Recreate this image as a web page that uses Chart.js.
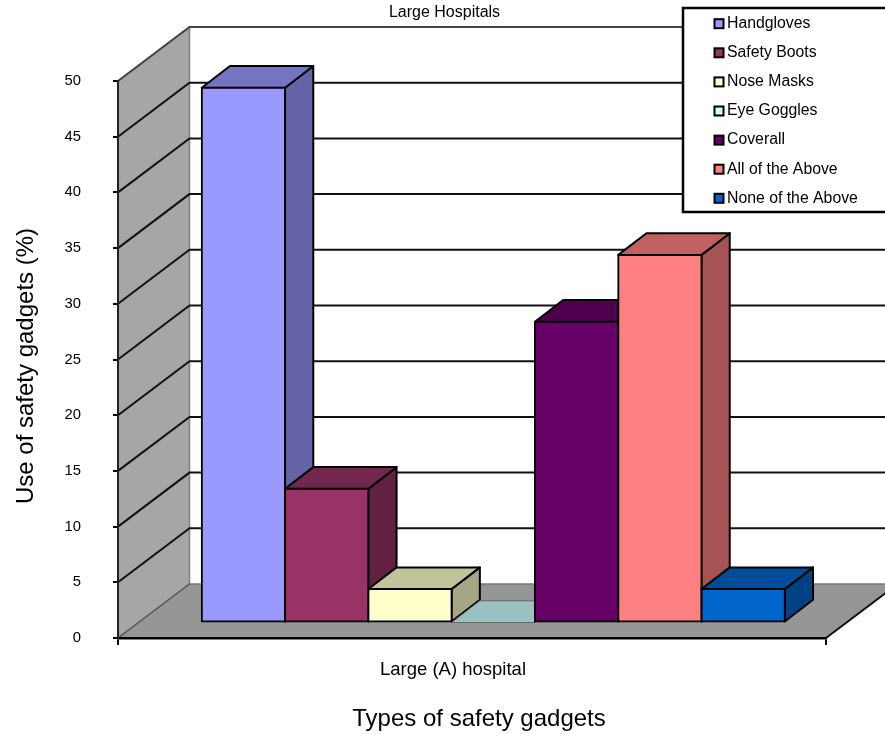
<!DOCTYPE html>
<html>
<head>
<meta charset="utf-8">
<title>Large Hospitals</title>
<script src="https://cdn.jsdelivr.net/npm/chart.js@4"></script>
<style>
  html, body { margin: 0; padding: 0; background: #fff; overflow: hidden; }
  canvas { display: block; }
</style>
</head>
<body>
<canvas id="grafica" width="885" height="734"></canvas>
<script>
// =======================
// DATOS
// =======================
const categorias = ['Large (A) hospital'];
const nombresSeries = ['Handgloves', 'Safety Boots', 'Nose Masks', 'Eye Goggles', 'Coverall', 'All of the Above', 'None of the Above'];
const valoresSeries = [48, 12, 3, 0, 27, 33, 3];
const coloresSeries = ['#9999FF', '#993366', '#FFFFCC', '#CCFFFF', '#660066', '#FF8080', '#0066CC'];
const valorMaximo = 50;
const pasoEje = 5;

const tituloGrafica = 'Large Hospitals';
const tituloEjeX = 'Types of safety gadgets';
const tituloEjeY = 'Use of safety gadgets (%)';

// =======================
// PERSPECTIVA
// =======================
const FONDO = { dx: 71.5, dy: -54 };    // del plano frontal a la pared del fondo
const PLANO_BARRAS = { dx: 21.3, dy: -15.5 };
const CAJA = { dx: 28.2, dy: -21.7 };   // profundidad de cada barra
const FUENTE = '"Liberation Sans", Arial, sans-serif';

function oscurecer(hex, f) {
  const n = parseInt(hex.slice(1), 16);
  const c = [n >> 16, (n >> 8) & 255, n & 255].map(v => Math.round(v * f));
  return `rgb(${c[0]}, ${c[1]}, ${c[2]})`;
}

function poligono(ctx, puntos, relleno, linea, grosor) {
  ctx.beginPath();
  puntos.forEach(([x, y], i) => (i ? ctx.lineTo(x, y) : ctx.moveTo(x, y)));
  ctx.closePath();
  if (relleno) { ctx.fillStyle = relleno; ctx.fill(); }
  if (linea) { ctx.strokeStyle = linea; ctx.lineWidth = grosor; ctx.stroke(); }
}

function linea(ctx, puntos, color, grosor) {
  ctx.beginPath();
  puntos.forEach(([x, y], i) => (i ? ctx.lineTo(x, y) : ctx.moveTo(x, y)));
  ctx.strokeStyle = color;
  ctx.lineWidth = grosor;
  ctx.stroke();
}

// Paredes, suelo y rejilla de fondo
const paredes = {
  id: 'paredes',
  beforeDraw(chart) {
    const { ctx, scales: { x, y }, width, height } = chart;
    const izq = x.left, der = x.right;
    const base = y.getPixelForValue(0), tope = y.getPixelForValue(valorMaximo);
    const { dx, dy } = FONDO;

    ctx.save();
    ctx.fillStyle = '#fff';
    ctx.fillRect(0, 0, width, height);

    poligono(ctx, [[izq, tope], [izq + dx, tope + dy], [izq + dx, base + dy], [izq, base]], '#A6A6A6', '#808080', 1.5);
    poligono(ctx, [[izq, base], [izq + dx, base + dy], [der + dx, base + dy], [der, base]], '#969696', null);

    linea(ctx, [[izq, tope], [izq + dx, tope + dy], [der + dx, tope + dy]], '#444', 2);
    linea(ctx, [[izq + dx, base + dy], [der + dx, base + dy]], '#777', 1.5);
    linea(ctx, [[izq, base], [izq + dx, base + dy]], '#555', 1.5);
    linea(ctx, [[der, base], [der + dx, base + dy]], '#111', 2);

    y.ticks.forEach(t => {
      if (t.value === 0 || t.value === valorMaximo) return;
      const py = y.getPixelForValue(t.value);
      linea(ctx, [[izq, py], [izq + dx, py + dy], [der + dx, py + dy]], '#111', 2);
    });
    ctx.restore();
  }
};

// Barras en 3D: caras superior y lateral, y el frente lo pinta la propia barra
const barras3d = {
  id: 'barras3d',
  beforeDatasetsDraw(chart) {
    const { ctx } = chart;
    chart.getSortedVisibleDatasetMetas().forEach(meta => {
      const barra = meta.data[0];
      const color = coloresSeries[meta.index];
      const x0 = barra.x - barra.width / 2, x1 = barra.x + barra.width / 2;
      const yt = barra.y, yb = barra.base;
      const { dx, dy } = CAJA;
      const conAltura = yb > yt;

      ctx.save();
      ctx.translate(PLANO_BARRAS.dx, PLANO_BARRAS.dy);
      ctx.lineJoin = 'round';
      if (conAltura) {
        poligono(ctx, [[x1, yt], [x1 + dx, yt + dy], [x1 + dx, yb + dy], [x1, yb]], oscurecer(color, 0.65), '#000', 2);
      }
      poligono(ctx, [[x0, yt], [x0 + dx, yt + dy], [x1 + dx, yt + dy], [x1, yt]], oscurecer(color, 0.76), conAltura ? '#000' : '#666', conAltura ? 2 : 1);
      meta.controller.draw();
      ctx.restore();
    });
    return false;
  }
};

// Títulos y leyenda
const rotulos = {
  id: 'rotulos',
  afterDraw(chart) {
    const { ctx } = chart;
    ctx.save();
    ctx.fillStyle = '#000';
    ctx.textBaseline = 'middle';
    ctx.textAlign = 'center';

    ctx.font = `16px ${FUENTE}`;
    ctx.fillText(tituloGrafica, 444.5, 13);
    ctx.font = `24px ${FUENTE}`;
    ctx.fillText(tituloEjeX, 479, 719);

    ctx.save();
    ctx.translate(26, 366);
    ctx.rotate(-Math.PI / 2);
    ctx.fillText(tituloEjeY, 0, 0);
    ctx.restore();

    // leyenda
    ctx.fillStyle = '#fff';
    ctx.strokeStyle = '#000';
    ctx.lineWidth = 2.5;
    ctx.fillRect(683, 8, 210, 204);
    ctx.strokeRect(683, 8, 210, 204);

    ctx.textAlign = 'left';
    ctx.font = `15.8px ${FUENTE}`;
    nombresSeries.forEach((nombre, i) => {
      const py = 23.7 + i * 29.1;
      ctx.fillStyle = coloresSeries[i];
      ctx.lineWidth = 2;
      ctx.strokeStyle = '#000';
      ctx.fillRect(714.5, py - 4.5, 9, 9);
      ctx.strokeRect(714.5, py - 4.5, 9, 9);
      ctx.fillStyle = '#000';
      ctx.fillText(nombre, 727, py);
    });
    ctx.restore();
  }
};

new Chart(document.getElementById('grafica').getContext('2d'), {
  type: 'bar',
  data: {
    labels: categorias,
    datasets: nombresSeries.map((nombre, i) => ({
      label: nombre,
      data: [valoresSeries[i]],
      backgroundColor: coloresSeries[i],
      borderColor: '#000',
      borderWidth: 2,
      borderSkipped: false,
      inflateAmount: 1,   // centra el borde sobre el canto de la barra
      categoryPercentage: 7 / 8.5,
      barPercentage: 1
    }))
  },
  options: {
    responsive: false,
    animation: false,
    layout: { padding: { top: 81, right: 59, left: 0, bottom: 0 } },
    plugins: {
      legend: { display: false },
      title: { display: false },
      tooltip: { enabled: false }
    },
    scales: {
      x: {
        afterFit: s => { s.height = 96; },
        grid: { offset: true, drawOnChartArea: false, tickLength: 7, color: '#000', lineWidth: 2 },
        border: { color: '#000', width: 2.5 },
        ticks: { color: '#000', font: { family: FUENTE, size: 18.5 }, padding: 14, labelOffset: -19 }
      },
      y: {
        min: 0,
        max: valorMaximo,
        afterFit: s => { s.width = 118; },
        grid: { drawOnChartArea: false, tickLength: 5, color: '#000', lineWidth: 2 },
        border: { color: '#222', width: 2 },
        ticks: { stepSize: pasoEje, color: '#000', font: { family: FUENTE, size: 14.8 }, padding: 32 }
      }
    }
  },
  plugins: [paredes, barras3d, rotulos]
});
</script>
</body>
</html>
